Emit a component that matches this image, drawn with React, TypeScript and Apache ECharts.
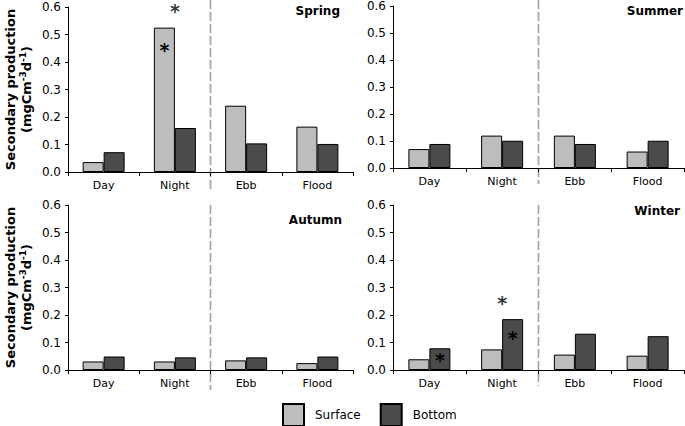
import React, { useEffect, useRef } from 'react';
import * as echarts from 'echarts';

const categories = ['Day', 'Night', 'Ebb', 'Flood'];
const seasons = ['Spring', 'Summer', 'Autumn', 'Winter'];

const springSurface = [0.036, 0.525, 0.241, 0.165];
const springBottom = [0.072, 0.16, 0.104, 0.102];
const summerSurface = [0.07, 0.12, 0.12, 0.061];
const summerBottom = [0.089, 0.101, 0.089, 0.101];
const autumnSurface = [0.031, 0.031, 0.035, 0.025];
const autumnBottom = [0.049, 0.046, 0.046, 0.049];
const winterSurface = [0.039, 0.075, 0.056, 0.052];
const winterBottom = [0.079, 0.185, 0.132, 0.123];

// significance markers (1 = asterisk)
const springSurfaceStar = [0, 1, 0, 0];
const springBottomStar = [0, 0, 0, 0];
const springPairStar = [0, 1, 0, 0];
const summerSurfaceStar = [0, 0, 0, 0];
const summerBottomStar = [0, 0, 0, 0];
const summerPairStar = [0, 0, 0, 0];
const autumnSurfaceStar = [0, 0, 0, 0];
const autumnBottomStar = [0, 0, 0, 0];
const autumnPairStar = [0, 0, 0, 0];
const winterSurfaceStar = [0, 0, 0, 0];
const winterBottomStar = [1, 1, 0, 0];
const winterPairStar = [0, 1, 0, 0];

const yMin = 0;
const yMax = 0.6;
const yInterval = 0.1;

const surfaceData = [springSurface, summerSurface, autumnSurface, winterSurface];
const bottomData = [springBottom, summerBottom, autumnBottom, winterBottom];
const surfaceStars = [springSurfaceStar, summerSurfaceStar, autumnSurfaceStar, winterSurfaceStar];
const bottomStars = [springBottomStar, summerBottomStar, autumnBottomStar, winterBottomStar];
const pairStars = [springPairStar, summerPairStar, autumnPairStar, winterPairStar];

const FONT = 'DejaVu Sans';
const surfaceColor = '#bdbdbd';
const bottomColor = '#4b4b4b';

const grids = [
  { left: 68, top: 7, width: 285, height: 165 },
  { left: 393, top: 5, width: 291, height: 163 },
  { left: 68, top: 205, width: 285, height: 165 },
  { left: 393, top: 205, width: 291, height: 165 },
];
const titlePos = [
  { right: 345, top: 5 },
  { right: 2, top: 5 },
  { right: 343, top: 214 },
  { right: 5, top: 205 },
];

const starLabel = {
  show: true,
  formatter: '*',
  color: '#000',
  fontFamily: FONT,
  fontWeight: 'bold',
  fontSize: 19,
};

function barData(values: number[], stars: number[], plotHeight: number) {
  return values.map((v, j) => {
    if (!stars[j]) return v;
    const barPx = (v / yMax) * plotHeight;
    const distance = Math.max(0, Math.min(13, barPx * 0.25 - 3));
    return { value: v, label: { ...starLabel, position: 'insideTop', distance } };
  });
}

export default function App() {
  const ref = useRef<HTMLDivElement>(null);
  useEffect(() => {
    document.body.style.margin = '0';
    const chart = echarts.init(ref.current!, null, { renderer: 'svg' });
    const series: any[] = [];
    for (let i = 0; i < 4; i++) {
      series.push({
        name: 'Surface',
        type: 'bar',
        xAxisIndex: i,
        yAxisIndex: i,
        barWidth: 21,
        barGap: '0%',
        itemStyle: { color: surfaceColor, borderColor: '#000', borderWidth: 1 },
        data: barData(surfaceData[i], surfaceStars[i], grids[i].height),
      });
      series.push({
        name: 'Bottom',
        type: 'bar',
        xAxisIndex: i,
        yAxisIndex: i,
        barWidth: 21,
        barGap: '0%',
        itemStyle: { color: bottomColor, borderColor: '#000', borderWidth: 1 },
        data: barData(bottomData[i], bottomStars[i], grids[i].height),
      });
      series.push({
        name: 'sig' + i,
        type: 'scatter',
        xAxisIndex: i,
        yAxisIndex: i,
        symbolSize: 0.01,
        silent: true,
        label: { ...starLabel, position: 'top', distance: 7 },
        data: pairStars[i].map((p, j) =>
          p ? Math.max(surfaceData[i][j], bottomData[i][j]) : '-'
        ),
      });
    }

    const dashLines = grids.map((g, i) => ({
      type: 'line',
      silent: true,
      shape: {
        x1: g.left + g.width / 2,
        y1: i < 2 ? 0 : g.top,
        x2: g.left + g.width / 2,
        y2: g.top + g.height + (i === 1 || i === 3 ? 16 : 20),
      },
      style: { stroke: '#a0a0a0', lineWidth: 1.6, lineDash: [9, 3] },
    }));

    chart.setOption({
      animation: false,
      backgroundColor: '#fff',
      title: seasons.map((s, i) => ({
        text: s,
        ...titlePos[i],
        padding: 0,
        textStyle: { fontFamily: FONT, fontWeight: 'bold', fontSize: 12, color: '#000' },
      })),
      legend: {
        data: ['Surface', 'Bottom'],
        left: 282,
        top: 403,
        itemWidth: 21,
        itemHeight: 22,
        itemGap: 19,
        icon: 'rect',
        padding: 0,
        selectedMode: false,
        textStyle: { fontFamily: FONT, fontSize: 12, color: '#000', padding: [0, 0, 0, 6] },
      },
      grid: grids.map((g) => ({ ...g, containLabel: false })),
      xAxis: grids.map((_, i) => ({
        type: 'category',
        gridIndex: i,
        data: categories,
        axisLine: { lineStyle: { color: '#000', width: 1 } },
        axisTick: { show: true, length: 4, lineStyle: { color: '#000' } },
        axisLabel: { fontFamily: FONT, fontSize: 11, color: '#000', margin: 8 },
      })),
      yAxis: grids.map((_, i) => ({
        type: 'value',
        gridIndex: i,
        min: yMin,
        max: yMax,
        interval: yInterval,
        splitLine: { show: false },
        axisLine: { show: true, lineStyle: { color: '#000', width: 1 } },
        axisTick: { show: true, length: 3, lineStyle: { color: '#000' } },
        axisLabel: {
          fontFamily: FONT,
          fontSize: 12,
          color: '#000',
          margin: 7,
          formatter: (v: number) => v.toFixed(1),
        },
        name:
          i % 2 === 0
            ? '{a|Secondary production}\n{a|(mgCm}{s|-3}{a|d}{s|-1}{a|)}'
            : '',
        nameLocation: 'middle',
        nameGap: 34,
        nameTextStyle: {
          fontFamily: FONT,
          fontWeight: 'bold',
          color: '#000',
          lineHeight: 16,
          rich: {
            a: { fontFamily: FONT, fontWeight: 'bold', fontSize: 13, color: '#000', lineHeight: 16 },
            s: {
              fontFamily: FONT,
              fontWeight: 'bold',
              fontSize: 9,
              color: '#000',
              lineHeight: 16,
              padding: [0, 0, 7, 0],
            },
          },
        },
      })),
      series,
      graphic: dashLines,
    });
    return () => chart.dispose();
  }, []);
  return (
    <div
      ref={ref}
      style={{ position: 'absolute', left: 0, top: 0, width: 685, height: 426 }}
    />
  );
}
